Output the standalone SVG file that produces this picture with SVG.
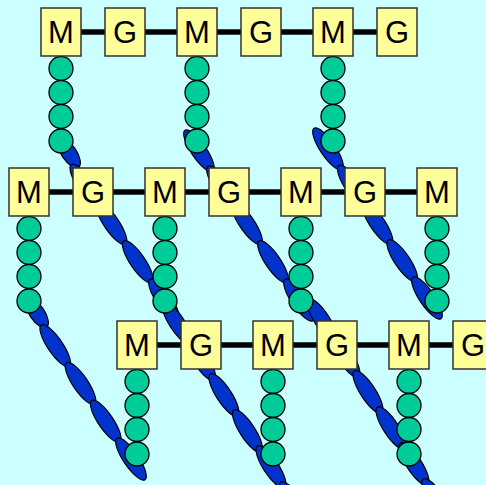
<svg xmlns="http://www.w3.org/2000/svg" xmlns:xlink="http://www.w3.org/1999/xlink" width="486" height="485" viewBox="0 0 486 485">
  <style>
    .box { fill: #FFFF99; stroke: #333333; stroke-width: 1.5; }
    .lbl { font-family: "Liberation Sans", Arial, sans-serif; font-size: 31px; text-anchor: middle; fill: #000000; }
    .bead { fill: #00CC99; stroke: #000000; stroke-width: 1.3; }
    .link { stroke: #000000; stroke-width: 5.5; }
    .seg { fill: #0033CC; stroke: #000000; stroke-width: 1.2; }
  </style>
  <defs>
    <ellipse id="seg" class="seg" cx="0" cy="0" rx="25" ry="7.5"/>
    <ellipse id="seg-short" class="seg" cx="0" cy="0" rx="17" ry="7.5"/>
    <g id="beads">
      <circle class="bead" cx="0" cy="12.5" r="12"/>
      <circle class="bead" cx="0" cy="36.5" r="12"/>
      <circle class="bead" cx="0" cy="60.5" r="12"/>
      <circle class="bead" cx="0" cy="85" r="12"/>
    </g>
  </defs>

  <rect x="0" y="0" width="486" height="485" fill="#CCFFFF"/>

  <!-- blue strands running diagonally between the bead stacks -->
  <g id="strands">
    <g id="strand-a">
      <use xlink:href="#seg-short" transform="translate(69,153) rotate(56)"/>
      <use xlink:href="#seg" transform="translate(85.25,185.25) rotate(56)"/>
      <use xlink:href="#seg" transform="translate(111.5,223.5) rotate(56)"/>
      <use xlink:href="#seg" transform="translate(137.75,261.75) rotate(56)"/>
      <use xlink:href="#seg" transform="translate(164,300) rotate(56)"/>
      <use xlink:href="#seg" transform="translate(177,323) rotate(57)"/>
      <use xlink:href="#seg" transform="translate(200.5,359) rotate(57)"/>
      <use xlink:href="#seg" transform="translate(224,395) rotate(57)"/>
      <use xlink:href="#seg" transform="translate(247.5,431) rotate(57)"/>
      <use xlink:href="#seg" transform="translate(271,467) rotate(57)"/>
      <use xlink:href="#seg" transform="translate(294.5,503) rotate(57)"/>
    </g>
    <g id="strand-b">
      <use xlink:href="#seg" transform="translate(199,151) rotate(56)"/>
      <use xlink:href="#seg" transform="translate(222,187) rotate(56)"/>
      <use xlink:href="#seg" transform="translate(247,223.5) rotate(56)"/>
      <use xlink:href="#seg" transform="translate(273,261.75) rotate(56)"/>
      <use xlink:href="#seg" transform="translate(299,300) rotate(56)"/>
      <use xlink:href="#seg" transform="translate(322,320) rotate(57)"/>
      <use xlink:href="#seg" transform="translate(345,356) rotate(57)"/>
      <use xlink:href="#seg" transform="translate(368,392) rotate(57)"/>
      <use xlink:href="#seg" transform="translate(391,428) rotate(57)"/>
      <use xlink:href="#seg" transform="translate(414,464) rotate(57)"/>
      <use xlink:href="#seg" transform="translate(437,500) rotate(57)"/>
    </g>
    <g id="strand-c">
      <use xlink:href="#seg" transform="translate(328,149) rotate(56)"/>
      <use xlink:href="#seg" transform="translate(352.75,186.25) rotate(56)"/>
      <use xlink:href="#seg" transform="translate(377.5,223.5) rotate(56)"/>
      <use xlink:href="#seg" transform="translate(402.25,260.75) rotate(56)"/>
      <use xlink:href="#seg" transform="translate(427,298) rotate(56)"/>
    </g>
    <g id="strand-d">
      <use xlink:href="#seg-short" transform="translate(37,313) rotate(56)"/>
      <use xlink:href="#seg" transform="translate(55.25,345.75) rotate(56)"/>
      <use xlink:href="#seg" transform="translate(80.5,383.5) rotate(56)"/>
      <use xlink:href="#seg" transform="translate(105.75,421.25) rotate(56)"/>
      <use xlink:href="#seg" transform="translate(131,459) rotate(56)"/>
    </g>
  </g>

  <!-- backbone links between neighbouring units -->
  <g id="connectors" class="link">
    <line x1="81" y1="32" x2="105" y2="32"/>
    <line x1="145" y1="32" x2="177" y2="32"/>
    <line x1="217" y1="32" x2="241" y2="32"/>
    <line x1="281" y1="32" x2="313" y2="32"/>
    <line x1="353" y1="32" x2="377" y2="32"/>

    <line x1="49" y1="192" x2="73" y2="192"/>
    <line x1="113" y1="192" x2="145" y2="192"/>
    <line x1="185" y1="192" x2="209" y2="192"/>
    <line x1="249" y1="192" x2="281" y2="192"/>
    <line x1="321" y1="192" x2="345" y2="192"/>
    <line x1="385" y1="192" x2="417" y2="192"/>

    <line x1="157" y1="345" x2="181" y2="345"/>
    <line x1="221" y1="345" x2="253" y2="345"/>
    <line x1="293" y1="345" x2="317" y2="345"/>
    <line x1="357" y1="345" x2="389" y2="345"/>
    <line x1="429" y1="345" x2="453" y2="345"/>
  </g>

  <!-- top row -->
  <g id="m1-1"><use xlink:href="#beads" transform="translate(61,56)"/><rect class="box" x="41" y="8" width="40" height="48"/><text class="lbl" x="61" y="43">M</text></g>
  <g id="g1-1"><rect class="box" x="105" y="8" width="40" height="48"/><text class="lbl" x="125" y="43">G</text></g>
  <g id="m1-2"><use xlink:href="#beads" transform="translate(197,56)"/><rect class="box" x="177" y="8" width="40" height="48"/><text class="lbl" x="197" y="43">M</text></g>
  <g id="g1-2"><rect class="box" x="241" y="8" width="40" height="48"/><text class="lbl" x="261" y="43">G</text></g>
  <g id="m1-3"><use xlink:href="#beads" transform="translate(333,56)"/><rect class="box" x="313" y="8" width="40" height="48"/><text class="lbl" x="333" y="43">M</text></g>
  <g id="g1-3"><rect class="box" x="377" y="8" width="40" height="48"/><text class="lbl" x="397" y="43">G</text></g>

  <!-- middle row -->
  <g id="m2-1"><use xlink:href="#beads" transform="translate(29,216)"/><rect class="box" x="9" y="168" width="40" height="48"/><text class="lbl" x="29" y="203">M</text></g>
  <g id="g2-1"><rect class="box" x="73" y="168" width="40" height="48"/><text class="lbl" x="93" y="203">G</text></g>
  <g id="m2-2"><use xlink:href="#beads" transform="translate(165,216)"/><rect class="box" x="145" y="168" width="40" height="48"/><text class="lbl" x="165" y="203">M</text></g>
  <g id="g2-2"><rect class="box" x="209" y="168" width="40" height="48"/><text class="lbl" x="229" y="203">G</text></g>
  <g id="m2-3"><use xlink:href="#beads" transform="translate(301,216)"/><rect class="box" x="281" y="168" width="40" height="48"/><text class="lbl" x="301" y="203">M</text></g>
  <g id="g2-3"><rect class="box" x="345" y="168" width="40" height="48"/><text class="lbl" x="365" y="203">G</text></g>
  <g id="m2-4"><use xlink:href="#beads" transform="translate(437,216)"/><rect class="box" x="417" y="168" width="40" height="48"/><text class="lbl" x="437" y="203">M</text></g>

  <!-- bottom row -->
  <g id="m3-1"><use xlink:href="#beads" transform="translate(137,369)"/><rect class="box" x="117" y="321" width="40" height="48"/><text class="lbl" x="137" y="356">M</text></g>
  <g id="g3-1"><rect class="box" x="181" y="321" width="40" height="48"/><text class="lbl" x="201" y="356">G</text></g>
  <g id="m3-2"><use xlink:href="#beads" transform="translate(273,369)"/><rect class="box" x="253" y="321" width="40" height="48"/><text class="lbl" x="273" y="356">M</text></g>
  <g id="g3-2"><rect class="box" x="317" y="321" width="40" height="48"/><text class="lbl" x="337" y="356">G</text></g>
  <g id="m3-3"><use xlink:href="#beads" transform="translate(409,369)"/><rect class="box" x="389" y="321" width="40" height="48"/><text class="lbl" x="409" y="356">M</text></g>
  <g id="g3-3"><rect class="box" x="453" y="321" width="40" height="48"/><text class="lbl" x="473" y="356">G</text></g>
</svg>
